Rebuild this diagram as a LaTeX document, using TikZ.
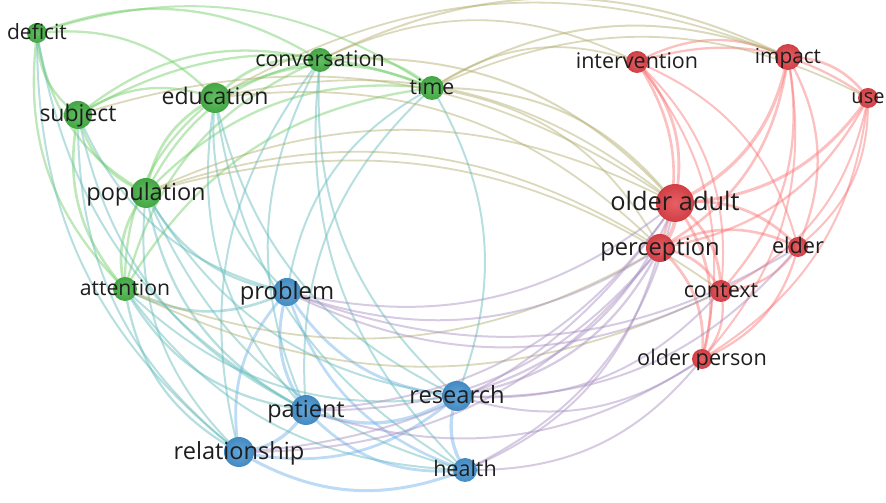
\documentclass[tikz,border=0pt]{standalone}
\usepackage{fontspec}
\setmainfont{Open Sans}
\definecolor{nG}{RGB}{72,180,72}
\definecolor{nB}{RGB}{72,150,210}
\definecolor{nR}{RGB}{226,68,74}
\definecolor{eG}{RGB}{110,205,100}
\definecolor{eB}{RGB}{110,175,235}
\definecolor{eR}{RGB}{250,115,115}
\definecolor{eGR}{RGB}{175,170,105}
\definecolor{eGB}{RGB}{95,185,185}
\definecolor{eBR}{RGB}{165,140,190}
\definecolor{lbl}{RGB}{30,30,30}
\tikzset{
  edgeline/.style={draw opacity=0.45, line cap=round},
  dot/.style={circle, inner sep=0pt, draw=none, shading=radial},
  lab/.style={inner sep=0pt, anchor=base, text=lbl}
}
\begin{document}
\begin{tikzpicture}[x=1pt,y=1pt]
\useasboundingbox (0,0) rectangle (886,503);
% positions (screen coordinates, y downwards)
\foreach \n/\x/\y in {deficit/37/33, conv/320/60, edu/215/98, time/432/88, subj/78/115,
  pop/146/193, att/125/289, prob/287/292, pat/306/410, res/457/396, rel/239/452,
  health/465/470, interv/637/62, impact/788/57, use/868/98, oa/675/203, perc/660/248,
  elder/798/247, context/721/291, op/702/359}{
  \expandafter\xdef\csname EX\n\endcsname{\x}
  \expandafter\xdef\csname EY\n\endcsname{\y}
  \coordinate (\n) at (\x,{503-\y});
}
% connectors, bulging away from the centre of the map
\foreach \a/\b/\ec/\ew in {
  deficit/subj/eG/2.3, deficit/edu/eG/2.3, deficit/conv/eG/2.3, deficit/pop/eG/2.3,
  deficit/att/eG/2.3, deficit/time/eG/2,
  subj/edu/eG/2.3, subj/conv/eG/2.3, subj/time/eG/2.3, subj/pop/eG/2.3, subj/att/eG/2.6,
  edu/conv/eG/2.8, edu/time/eG/2.6, edu/pop/eG/2.8, edu/att/eG/2.3,
  conv/time/eG/2.6, conv/pop/eG/2.3, conv/att/eG/2.3,
  time/pop/eG/2.3, time/att/eG/2.3, pop/att/eG/2.8,
  prob/pat/eB/3, prob/res/eB/2.8, prob/rel/eB/2.8, prob/health/eB/2.6,
  pat/res/eB/3.3, pat/rel/eB/3.3, pat/health/eB/2.8, res/rel/eB/2.8, res/health/eB/3.3,
  rel/health/eB/3,
  interv/impact/eR/2.3, interv/use/eR/2.3, interv/oa/eR/2.8, interv/perc/eR/2.6,
  interv/elder/eR/2, interv/context/eR/2, interv/op/eR/2,
  impact/use/eR/2.6, impact/oa/eR/3.3, impact/perc/eR/2.6, impact/elder/eR/2.3,
  impact/context/eR/2.3, impact/op/eR/2,
  use/oa/eR/3, use/perc/eR/2.3, use/elder/eR/2, use/context/eR/2, use/op/eR/2,
  oa/perc/eR/3.8, oa/elder/eR/2.8, oa/context/eR/2.8, oa/op/eR/2.8,
  perc/elder/eR/2.6, perc/context/eR/2.8, perc/op/eR/2.8,
  elder/context/eR/2.3, elder/op/eR/2.3, context/op/eR/2.3,
  att/prob/eGB/2.6, att/pat/eGB/2.3, att/rel/eGB/2.3, att/res/eGB/2, att/health/eGB/2,
  pop/prob/eGB/2.3, pop/pat/eGB/2.3, pop/rel/eGB/2, pop/res/eGB/2, pop/health/eGB/2,
  subj/pat/eGB/2, subj/rel/eGB/2, subj/prob/eGB/2,
  edu/pat/eGB/2, edu/res/eGB/2, edu/health/eGB/2, edu/prob/eGB/2,
  conv/pat/eGB/2, conv/res/eGB/2, conv/health/eGB/2, conv/rel/eGB/2,
  time/prob/eGB/2, time/pat/eGB/2, time/res/eGB/2,
  deficit/rel/eGB/2, deficit/pat/eGB/2,
  time/interv/eGR/1.8, time/impact/eGR/2, time/use/eGR/1.8, time/oa/eGR/2,
  time/perc/eGR/1.8, conv/interv/eGR/1.8, conv/impact/eGR/2, conv/oa/eGR/2,
  edu/oa/eGR/1.8, edu/impact/eGR/1.8, edu/perc/eGR/1.8,
  pop/oa/eGR/1.8, pop/perc/eGR/1.8, pop/context/eGR/1.8,
  att/context/eGR/1.8, att/perc/eGR/1.8, subj/oa/eGR/1.8,
  prob/oa/eBR/2, prob/perc/eBR/2, prob/context/eBR/2, prob/elder/eBR/2,
  pat/oa/eBR/2, pat/perc/eBR/2, pat/op/eBR/2,
  res/oa/eBR/2.3, res/perc/eBR/2.3, res/op/eBR/2, res/elder/eBR/2, res/context/eBR/2,
  health/oa/eBR/2, health/perc/eBR/2, health/op/eBR/2,
  rel/perc/eBR/2, rel/oa/eBR/2}{
  \edef\EXa{\csname EX\a\endcsname}\edef\EYa{\csname EY\a\endcsname}
  \edef\EXb{\csname EX\b\endcsname}\edef\EYb{\csname EY\b\endcsname}
  \pgfmathsetmacro\ECr{((\EXa-443)/100)*((\EYb-250)/100)-((\EYa-250)/100)*((\EXb-443)/100)}
  \pgfmathsetmacro\EAo{ifthenelse(\ECr>0,26,-26)}
  \pgfmathsetmacro\EAi{180-\EAo}
  \draw[edgeline, draw=\ec, line width=\ew] (\a) to[out=\EAo, in=\EAi, relative] (\b);
}
% circles
\foreach \n/\r/\col in {deficit/10/nG, conv/12/nG, edu/15/nG, time/12/nG, subj/14/nG,
  pop/15/nG, att/12/nG, prob/14/nB, pat/15/nB, res/15/nB, rel/15/nB, health/12/nB,
  interv/11/nR, impact/13/nR, use/10/nR, oa/19/nR, perc/14/nR, elder/10/nR,
  context/11/nR, op/10/nR}{
  \node[dot, minimum size={2*\r pt}, inner color=\col!85!white, outer color=\col!92!black] (c-\n) at (\n) {};
}
% labels
\foreach \n/\fs/\t in {deficit/21/deficit, conv/21.5/conversation, edu/23/education,
  time/21.3/time, subj/23/subject, pop/23.5/population, att/21.2/attention,
  prob/23.8/problem, pat/23.4/patient, res/23.7/research, rel/23.6/relationship,
  health/21.5/health, interv/21.5/intervention, impact/20.8/impact, use/20/use,
  oa/25.4/older adult, perc/23.7/perception, elder/21.7/elder, context/21.5/context,
  op/21.7/older person}{
  \node[lab, font=\fontsize{\fs}{\fs}\selectfont, yshift={-0.3*\fs pt}] (l-\n) at (\n) {\t};
}
\end{tikzpicture}
\end{document}
